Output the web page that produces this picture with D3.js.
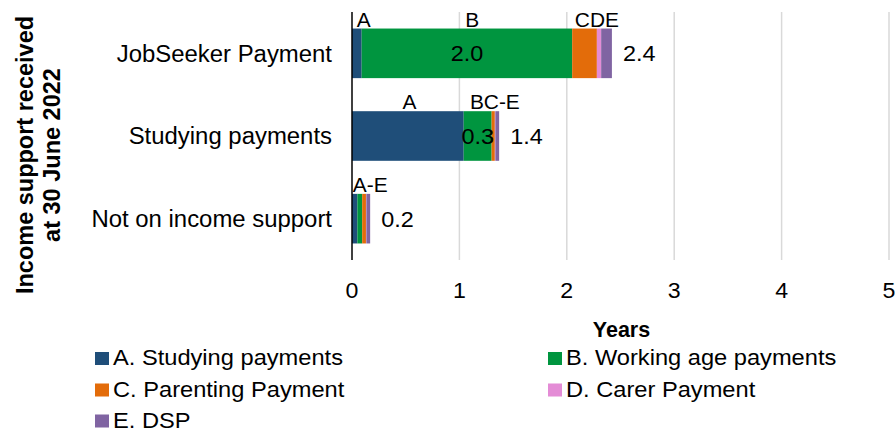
<!DOCTYPE html>
<html>
<head>
<meta charset="utf-8">
<script src="https://cdn.jsdelivr.net/npm/d3@7"></script>
<style>
  body { margin: 0; background: #fff; }
  svg { display: block; font-family: "Liberation Sans", Arial, sans-serif; }
</style>
</head>
<body>
<svg id="chart" width="895" height="433"></svg>
<script>
// ---- Data ----
const categories = ["JobSeeker Payment", "Studying payments", "Not on income support"];
const seriesNames = ["A. Studying payments", "B. Working age payments", "C. Parenting Payment", "D. Carer Payment", "E. DSP"];
const seriesA = [0.09, 1.04, 0.05];
const seriesB = [1.96, 0.26, 0.045];
const seriesC = [0.23, 0.03, 0.035];
const seriesD = [0.04, 0.005, 0.004];
const seriesE = [0.10, 0.035, 0.035];
const seriesColors = ["#1F4E79", "#00953F", "#E36C0A", "#E48CD6", "#8064A2"];
const xTicks = [0, 1, 2, 3, 4, 5];
const groupLabelText = ["A", "B", "CDE", "A", "BC-E", "A-E"];
const groupLabelRow = [0, 0, 0, 1, 1, 2];
const groupLabelAt = [0.11, 1.12, 2.28, 0.535, 1.33, 0.17];
const yTitleLines = ["Income support received", "at 30 June 2022"];
const xTitle = "Years";

// ---- Build ----
const seriesValues = [seriesA, seriesB, seriesC, seriesD, seriesE];
const rows = categories.map((c, i) => {
  const r = { cat: c };
  seriesNames.forEach((s, j) => r[s] = seriesValues[j][i]);
  return r;
});
const stack = d3.stack().keys(seriesNames)(rows);

const svg = d3.select("#chart");

// place text with a slight horizontal stretch
function place(sel, fx, fy, sx) {
  sel.attr("transform", (d, i) => `translate(${fx(d, i)},${fy(d, i)}) scale(${sx},1)`);
  return sel;
}

const x = d3.scaleLinear().domain([0, 5]).range([352, 889]);
const y = d3.scaleBand().domain(categories).range([12, 260]).paddingInner(0.4).paddingOuter(0.2);

// gridlines
svg.append("g").selectAll("line").data(xTicks.filter(t => t > 0)).join("line")
  .attr("x1", d => x(d)).attr("x2", d => x(d))
  .attr("y1", 12).attr("y2", 260)
  .attr("stroke", "#D9D9D9").attr("stroke-width", 1.5);

// bars
svg.append("g").selectAll("g").data(stack).join("g")
  .attr("fill", (d, i) => seriesColors[i])
  .selectAll("rect").data(d => d).join("rect")
  .attr("x", d => x(d[0]))
  .attr("width", d => Math.max(0, x(d[1]) - x(d[0])))
  .attr("y", d => y(d.data.cat))
  .attr("height", y.bandwidth());

// axis line
svg.append("line").attr("x1", x(0)).attr("x2", x(0)).attr("y1", 12).attr("y2", 260)
  .attr("stroke", "#000").attr("stroke-width", 1.5);

// x tick labels
place(svg.append("g").selectAll("text").data(xTicks).join("text")
  .attr("text-anchor", "middle").attr("font-size", 22.5).attr("fill", "#000")
  .text(d => d3.format("d")(d)), d => x(d), () => 297.5, 1.03);

// x title
svg.append("text").attr("x", (x(0) + x(5)) / 2 + 1).attr("y", 336.5)
  .attr("text-anchor", "middle").attr("font-size", 21.5).attr("font-weight", "bold")
  .text(xTitle);

// category labels
place(svg.append("g").selectAll("text").data(categories).join("text")
  .attr("dy", "0.36em").attr("text-anchor", "end").attr("font-size", 23)
  .text(d => d), () => 332, d => y(d) + y.bandwidth() / 2, 1.04);

// y title
const yt = svg.append("text").attr("transform", "translate(0,155) rotate(-90)")
  .attr("text-anchor", "middle").attr("font-size", 23.5).attr("font-weight", "bold");
yt.append("tspan").attr("x", 0).attr("y", 33).text(yTitleLines[0]);
yt.append("tspan").attr("x", 0).attr("y", 60).text(yTitleLines[1]);

// B segment value labels
place(svg.append("g").selectAll("text").data(stack[1].filter(d => d[1] - d[0] >= 0.2)).join("text")
  .attr("dy", "0.36em").attr("text-anchor", "middle").attr("font-size", 22.5)
  .text(d => d3.format(".1f")(d[1] - d[0])),
  d => x((d[0] + d[1]) / 2), d => y(d.data.cat) + y.bandwidth() / 2, 1.04);

// totals
const last = stack[stack.length - 1];
place(svg.append("g").selectAll("text").data(last).join("text")
  .attr("dy", "0.36em").attr("text-anchor", "start").attr("font-size", 22.5)
  .text(d => d3.format(".1f")(d[1])),
  d => x(d[1]) + 11, d => y(d.data.cat) + y.bandwidth() / 2, 1.04);

// group letter labels
place(svg.append("g").selectAll("text").data(groupLabelText).join("text")
  .attr("text-anchor", "middle").attr("font-size", 20.5)
  .text(d => d),
  (d, i) => x(groupLabelAt[i]), (d, i) => y(categories[groupLabelRow[i]]) - 2, 1.02);

// legend
const legendPos = [[95, 365], [548, 365], [95, 396.5], [548, 396.5], [95, 427.5]];
const lg = svg.append("g").selectAll("g").data(seriesNames).join("g")
  .attr("transform", (d, i) => `translate(${legendPos[i][0]},${legendPos[i][1]})`);
lg.append("rect").attr("x", 0).attr("y", -13).attr("width", 14).attr("height", 13)
  .attr("fill", (d, i) => seriesColors[i]);
lg.append("text").attr("transform", "translate(18,0) scale(1.1,1)")
  .attr("font-size", 21.5).text(d => d);
</script>
</body>
</html>
